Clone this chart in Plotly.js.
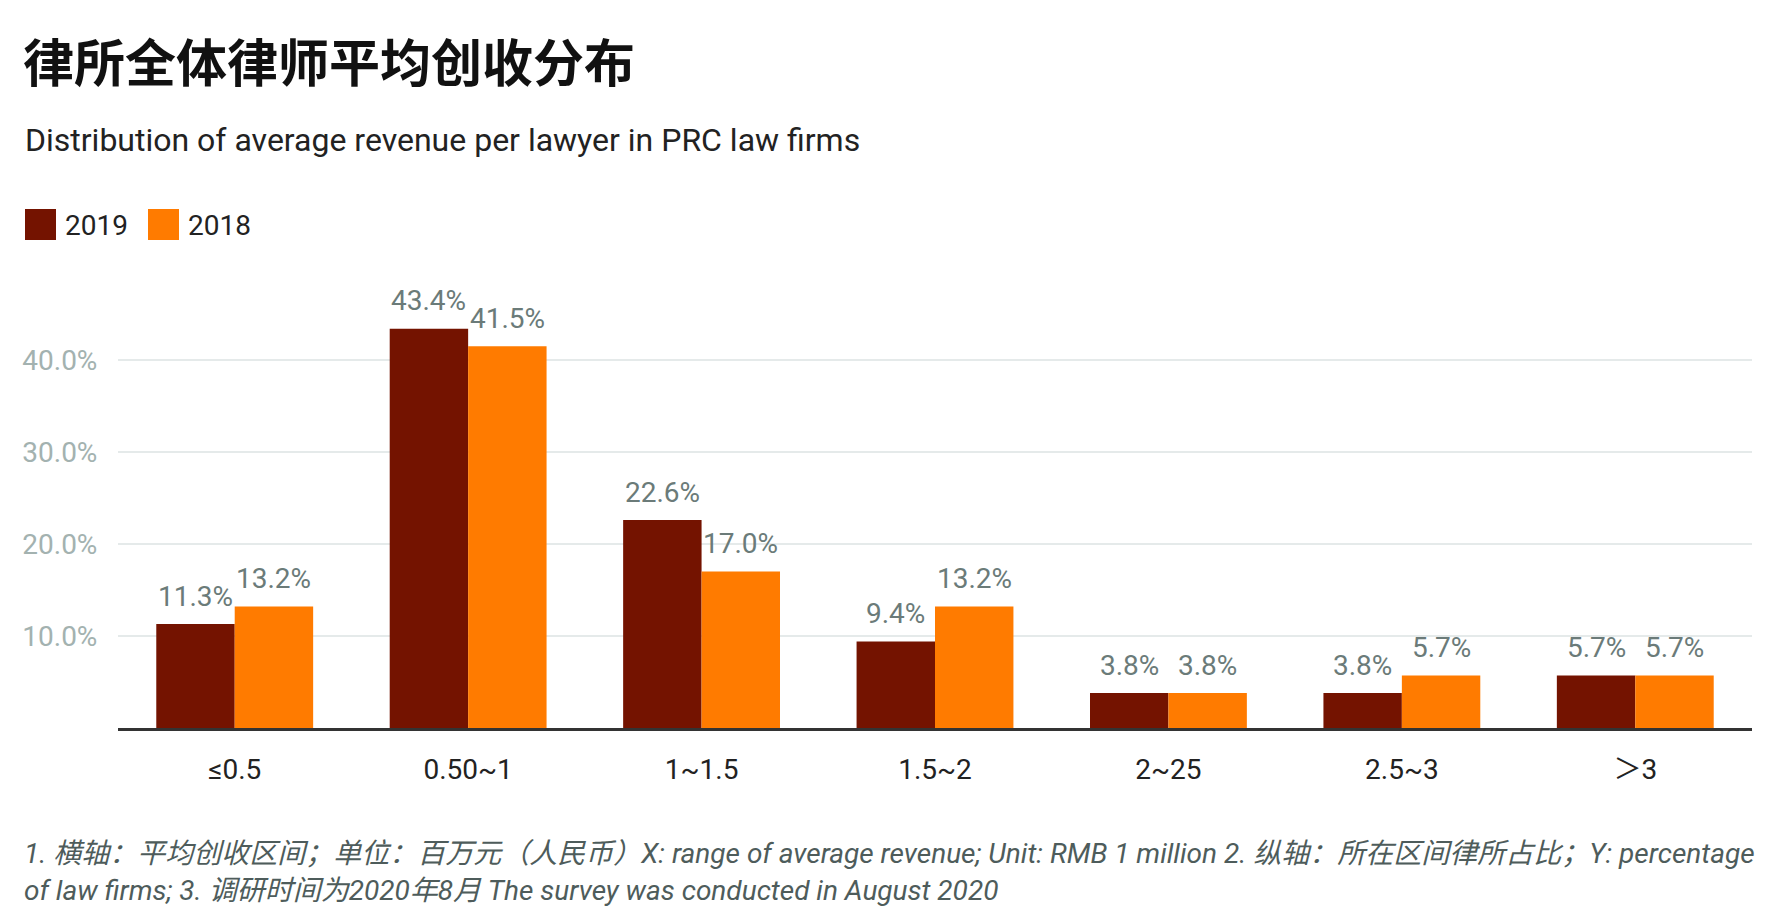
<!DOCTYPE html>
<html>
<head>
<meta charset="utf-8">
<script src="https://cdn.plot.ly/plotly-3.0.1.min.js"></script>
<style>html,body{margin:0;padding:0;background:#fff;}#chart{width:1772px;height:912px;}</style>
</head>
<body>
<div id="chart"></div>
<script>
// ---- data ----
const categories = ["≤0.5", "0.50~1", "1~1.5", "1.5~2", "2~25", "2.5~3", "＞3"];
const values2019 = [11.3, 43.4, 22.6, 9.4, 3.8, 3.8, 5.7];
const values2018 = [13.2, 41.5, 17.0, 13.2, 3.8, 5.7, 5.7];
const seriesNames = ["2019", "2018"];
const yTickValues = [10, 20, 30, 40];
const yTickLabels = ["10.0%", "20.0%", "30.0%", "40.0%"];
const titleText = "律所全体律师平均创收分布";
const subtitleText = "Distribution of average revenue per lawyer in PRC law firms";
const noteLine1 = "1. 横轴：平均创收区间；单位：百万元（人民币）X: range of average revenue; Unit: RMB 1 million 2. 纵轴：所在区间律所占比；Y: percentage";
const noteLine2 = "of law firms; 3. 调研时间为2020年8月 The survey was conducted in August 2020";

// ---- layout geometry ----
const W = 1772, H = 912;
const M = {l: 118, r: 20, t: 270, b: 184};
const pw = W - M.l - M.r, ph = H - M.t - M.b;
const px = x => (x - M.l) / pw;
const py = y => (H - M.b - y) / ph;
const BARGAP = 0.328;

const colors = ["#741300", "#ff7b00"];
const FONT = "Roboto, 'Noto Sans CJK SC', sans-serif";
const labelColor = "#6b7b79";

const seriesValues = [values2019, values2018];
const traces = seriesValues.map((vals, i) => ({
  type: "bar",
  name: seriesNames[i],
  x: categories,
  y: vals,
  marker: {color: colors[i], line: {width: 0}},
  hoverinfo: "skip"
}));

// value labels anchored to each bar's data position
const groupHalf = (1 - BARGAP) / 4;
const valueLabels = [];
seriesValues.forEach((vals, i) => {
  vals.forEach((v, j) => {
    valueLabels.push({
      text: v.toFixed(1) + "%", xref: "x", yref: "y",
      x: j + (i === 0 ? -groupHalf : groupHalf), y: v,
      xanchor: "center", yanchor: "middle", yshift: 28, showarrow: false,
      font: {family: FONT, size: 28, color: labelColor}
    });
  });
});

const boxX = [25, 148];
const shapes = seriesNames.map((n, i) => ({
  type: "rect", xref: "paper", yref: "paper",
  x0: px(boxX[i]), x1: px(boxX[i] + 31),
  y0: py(240), y1: py(209),
  fillcolor: colors[i], line: {width: 0}
}));

const annotations = [
  {text: subtitleText, xref: "paper", yref: "paper", x: px(23), y: py(140),
   xanchor: "left", yanchor: "middle", showarrow: false,
   font: {family: FONT, size: 32, color: "#222"}},
  ...seriesNames.map((n, i) => ({
    text: n, xref: "paper", yref: "paper", x: px(boxX[i] + 38), y: py(225),
    xanchor: "left", yanchor: "middle", showarrow: false,
    font: {family: FONT, size: 28, color: "#222"}
  })),
  {text: noteLine1, xref: "paper", yref: "paper", x: px(22), y: py(853),
   xanchor: "left", yanchor: "middle", showarrow: false,
   font: {family: FONT, size: 28, color: "#4e5c5b", style: "italic"}},
  {text: noteLine2, xref: "paper", yref: "paper", x: px(22), y: py(890),
   xanchor: "left", yanchor: "middle", showarrow: false,
   font: {family: FONT, size: 28, color: "#4e5c5b", style: "italic"}},
  ...valueLabels
];

const layout = {
  width: W, height: H,
  margin: M,
  paper_bgcolor: "#fff", plot_bgcolor: "#fff",
  showlegend: false,
  barmode: "group",
  bargap: BARGAP,
  bargroupgap: 0,
  title: {
    text: titleText, xref: "container", yref: "container",
    x: 23 / W, xanchor: "left", y: 1 - 64 / H, yanchor: "middle",
    font: {family: "'Noto Sans CJK SC', sans-serif", size: 51, weight: 700, color: "#111"}
  },
  xaxis: {
    type: "category",
    showline: true, linecolor: "#333", linewidth: 2.5,
    showgrid: false, zeroline: false,
    ticks: "outside", ticklen: 15, tickcolor: "rgba(0,0,0,0)",
    tickfont: {family: FONT, size: 28, color: "#222"},
    fixedrange: true
  },
  yaxis: {
    range: [0, (H - M.b - M.t) / 92 * 10],
    tickvals: yTickValues,
    ticktext: yTickLabels,
    showgrid: true, gridcolor: "#e5eaea", gridwidth: 2,
    zeroline: false, showline: false,
    ticks: "outside", ticklen: 14, tickcolor: "rgba(0,0,0,0)",
    tickfont: {family: FONT, size: 28, color: "#a3b2b0"},
    fixedrange: true
  },
  shapes, annotations
};

Plotly.newPlot("chart", traces, layout, {displayModeBar: false, staticPlot: true});
</script>
</body>
</html>
